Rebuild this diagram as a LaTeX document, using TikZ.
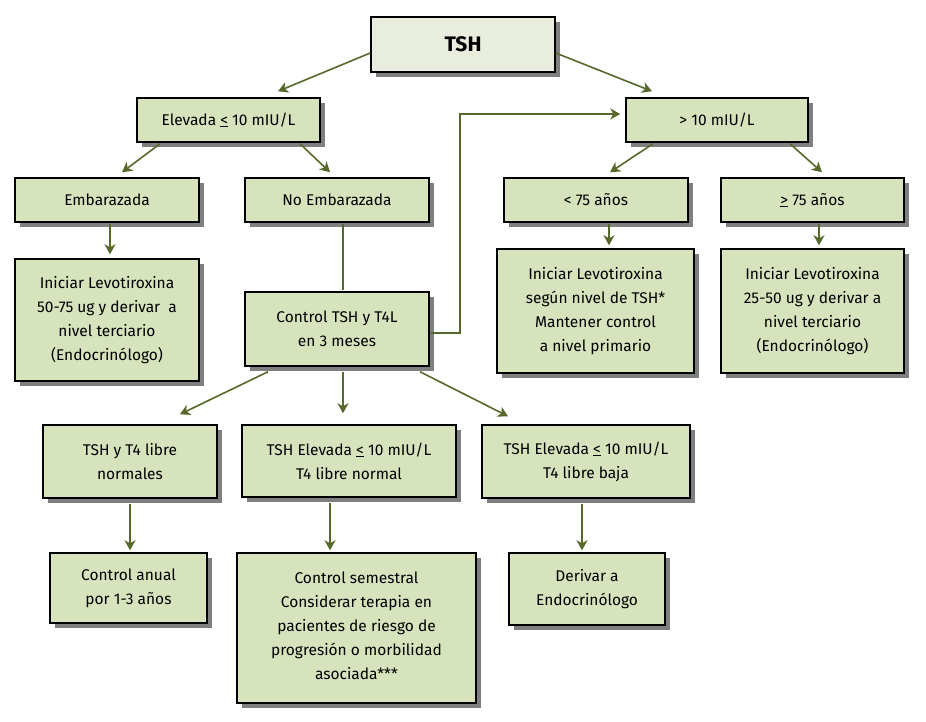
\documentclass[tikz,border=0pt]{standalone}
\usepackage{fontspec}
\setmainfont{Fira Sans}
\usetikzlibrary{arrows.meta,calc}
\definecolor{boxfill}{HTML}{D7E3BC}
\definecolor{topfill}{HTML}{E9EDDD}
\definecolor{arrcol}{HTML}{56692B}
\definecolor{shadcol}{HTML}{7F7F7F}
\newcommand{\leqs}{\underline{<}}
\newcommand{\geqs}{\underline{>}}
\tikzset{
  box/.style={draw=black, line width=1.5pt, fill=boxfill, align=center, inner sep=2pt,
    font=\fontsize{15.5}{24}\selectfont},
  arr/.style={draw=arrcol, line width=1.6pt, -{Stealth[length=10pt,width=11pt,inset=3pt]}},
  lin/.style={draw=arrcol, line width=1.6pt},
  shad/.style={fill=shadcol},
}
% shadow: name, cx, cy, w, h
\newcommand{\shbox}[5]{\fill[shad] (#2-#4/2+4.5,#3-#5/2+4.5) rectangle (#2+#4/2+4.5,#3+#5/2+4.5);}
\begin{document}
\begin{tikzpicture}[x=1pt,y=-1pt]
\fill[white] (0,0) rectangle (926,721);
\useasboundingbox (0,0) rectangle (926,721);
\shbox{tsh}{463}{44.5}{184}{55}
\shbox{elev}{228.5}{120}{183}{44}
\shbox{mayor}{717}{120}{182}{44}
\shbox{emb}{107}{200}{184}{44}
\shbox{noemb}{337}{200}{184}{44}
\shbox{men75}{596}{200}{184}{44}
\shbox{may75}{812.5}{200}{183}{44}
\shbox{inic1}{107}{320}{184}{122}
\shbox{ctrl}{337}{329}{184}{74}
\shbox{inic2}{595.5}{311}{197}{124}
\shbox{inic3}{812.5}{311}{183}{124}
\shbox{norm}{130}{461.5}{174}{73}
\shbox{elevn}{349}{461}{214}{72}
\shbox{elevb}{586}{461.5}{208}{73}
\shbox{anual}{128.5}{588}{157}{70}
\shbox{sem}{356.5}{628}{239}{150}
\shbox{deriv}{587}{589}{156}{72}

\node[box, fill=topfill, minimum width=184pt, minimum height=55pt, font=\fontsize{21}{24}\selectfont\bfseries] (tsh) at (463,44.5) {TSH};
\node[box, minimum width=183pt, minimum height=44pt] (elev) at (228.5,120) {Elevada \leqs{} 10 mIU/L};
\node[box, minimum width=182pt, minimum height=44pt] (mayor) at (717,120) {> 10 mIU/L};
\node[box, minimum width=184pt, minimum height=44pt] (emb) at (107,200) {Embarazada};
\node[box, minimum width=184pt, minimum height=44pt] (noemb) at (337,200) {No Embarazada};
\node[box, minimum width=184pt, minimum height=44pt] (men75) at (596,200) {< 75 años};
\node[box, minimum width=183pt, minimum height=44pt] (may75) at (812.5,200) {\geqs{} 75 años};
\node[box, minimum width=184pt, minimum height=122pt] (inic1) at (107,320) {Iniciar Levotiroxina\\50-75 ug y derivar\ \ a\\nivel terciario\\(Endocrinólogo)};
\node[box, minimum width=184pt, minimum height=74pt] (ctrl) at (337,329) {Control TSH y T4L\\en 3 meses};
\node[box, minimum width=197pt, minimum height=124pt] (inic2) at (595.5,311) {Iniciar Levotiroxina\\según nivel de TSH*\\Mantener control\\a nivel primario};
\node[box, minimum width=183pt, minimum height=124pt] (inic3) at (812.5,311) {Iniciar Levotiroxina\\25-50 ug y derivar a\\nivel terciario\\(Endocrinólogo)};
\node[box, minimum width=174pt, minimum height=73pt] (norm) at (130,461.5) {TSH y T4 libre\\normales};
\node[box, minimum width=214pt, minimum height=72pt] (elevn) at (349,461) {TSH Elevada \leqs{} 10 mIU/L\\T4 libre normal};
\node[box, minimum width=208pt, minimum height=73pt] (elevb) at (586,461.5) {TSH Elevada \leqs{} 10 mIU/L\\T4 libre baja};
\node[box, minimum width=157pt, minimum height=70pt] (anual) at (128.5,588) {Control anual\\por 1-3 años};
\node[box, minimum width=239pt, minimum height=150pt, text depth=4pt] (sem) at (356.5,628) {Control semestral\\Considerar terapia en\\pacientes de riesgo de\\progresión o morbilidad\\asociada***};
\node[box, minimum width=156pt, minimum height=72pt] (deriv) at (587,589) {Derivar a\\Endocrinólogo};

\draw[arr] ($(tsh.west)+(0,8.5)$) -- ($(elev.north)+(49.5,-6)$);
\draw[arr] ($(tsh.east)+(0,8.5)$) -- ($(mayor.north)+(-65,-6)$);
\draw[arr] ($(elev.south)+(-68.5,1)$) -- ($(emb.north)+(15,-5)$);
\draw[arr] ($(elev.south)+(71.5,1)$) -- ($(noemb.north)+(-7,-5)$);
\draw[arr] ($(mayor.south)+(-64,1)$) -- ($(men75.north)+(14,-5)$);
\draw[arr] ($(mayor.south)+(73,1)$) -- ($(may75.north)+(9.5,-5)$);
\draw[arr] ($(emb.south)+(3,1)$) -- ($(inic1.north)+(3,-4)$);
\draw[lin] ($(noemb.south)+(6,1)$) -- ($(ctrl.north)+(6,-1)$);
\draw[arr] ($(ctrl.east)+(1,4)$) -| (460,114) -- ($(mayor.west)+(-5,-6)$);
\draw[arr] ($(men75.south)+(13,1)$) -- ($(inic2.north)+(13.5,-3)$);
\draw[arr] ($(may75.south)+(6.5,1)$) -- ($(inic3.north)+(6.5,-3)$);
\draw[arr] ($(ctrl.south)+(-69,5)$) -- ($(norm.north)+(50,-10)$);
\draw[arr] ($(ctrl.south)+(6,5)$) -- ($(elevn.north)+(-6,-11)$);
\draw[arr] ($(ctrl.south)+(83,5)$) -- ($(elevb.north)+(-78,-8)$);
\draw[arr] ($(norm.south)+(0,5.5)$) -- ($(anual.north)+(1.5,-2)$);
\draw[arr] ($(elevn.south)+(-19,5.5)$) -- ($(sem.north)+(-26.5,-2)$);
\draw[arr] ($(elevb.south)+(-4,5.5)$) -- ($(deriv.north)+(-5,-2)$);
\end{tikzpicture}
\end{document}
